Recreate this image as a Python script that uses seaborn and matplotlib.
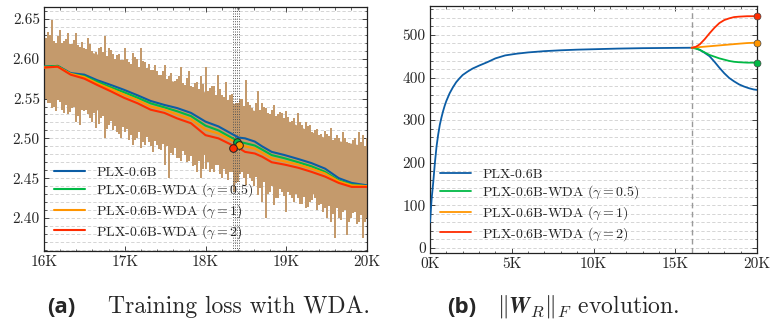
import numpy as np
import pandas as pd
import matplotlib
matplotlib.use("Agg")
import matplotlib.pyplot as plt
from matplotlib.ticker import FuncFormatter, MultipleLocator
import seaborn as sns

# ---------------- data ----------------
names = ["PLX-0.6B", r"PLX-0.6B-WDA ($\gamma = 0.5$)",
         r"PLX-0.6B-WDA ($\gamma = 1$)", r"PLX-0.6B-WDA ($\gamma = 2$)"]
colors = ["#0C5DA5", "#00B945", "#FF9500", "#FF2C00"]

# (a) raw loss: dense core of the noisy band, steps in K
core_steps = [16.0, 16.25, 16.5, 16.75, 17.0, 17.25, 17.5, 17.75, 18.0, 18.25,
              18.5, 18.75, 19.0, 19.25, 19.5, 19.75, 20.0]
core_hi = [2.620, 2.616, 2.611, 2.603, 2.594, 2.585, 2.575, 2.567, 2.558, 2.548,
           2.538, 2.531, 2.523, 2.511, 2.500, 2.495, 2.490]
core_lo = [2.559, 2.551, 2.542, 2.532, 2.521, 2.511, 2.500, 2.489, 2.479, 2.473,
           2.467, 2.454, 2.441, 2.433, 2.425, 2.420, 2.416]

# (a) raw loss spikes (upper / lower extremes), first set
raw_steps = [16.00, 16.05, 16.10, 16.15, 16.20, 16.25, 16.30, 16.35, 16.40, 16.45,
             16.50, 16.55, 16.60, 16.65, 16.70, 16.75, 16.80, 16.85, 16.90, 16.95,
             17.00, 17.05, 17.10, 17.15, 17.20, 17.25, 17.30, 17.35, 17.40, 17.45,
             17.50, 17.55, 17.60, 17.65, 17.70, 17.75, 17.80, 17.85, 17.90, 17.95,
             18.00, 18.05, 18.10, 18.15, 18.20, 18.25, 18.30, 18.35, 18.40, 18.45,
             18.50, 18.55, 18.60, 18.65, 18.70, 18.75, 18.80, 18.85, 18.90, 18.95,
             19.00, 19.05, 19.10, 19.15, 19.20, 19.25, 19.30, 19.35, 19.40, 19.45,
             19.50, 19.55, 19.60, 19.65, 19.70, 19.75, 19.80, 19.85, 19.90, 19.95,
             20.00]
raw_hi = [2.630, 2.634, 2.649, 2.620, 2.636, 2.622, 2.632, 2.618, 2.632, 2.615,
          2.614, 2.626, 2.610, 2.609, 2.615, 2.628, 2.613, 2.606, 2.605, 2.598,
          2.613, 2.596, 2.607, 2.600, 2.613, 2.596, 2.594, 2.586, 2.584, 2.580,
          2.592, 2.578, 2.570, 2.574, 2.590, 2.567, 2.584, 2.565, 2.571, 2.578,
          2.590, 2.563, 2.566, 2.580, 2.555, 2.571, 2.555, 2.538, 2.544, 2.550,
          2.573, 2.542, 2.534, 2.559, 2.545, 2.538, 2.530, 2.542, 2.530, 2.532,
          2.534, 2.521, 2.525, 2.532, 2.517, 2.520, 2.517, 2.510, 2.504, 2.500,
          2.506, 2.513, 2.500, 2.500, 2.508, 2.496, 2.492, 2.500, 2.508, 2.504,
          2.500]
raw_lo = [2.559, 2.545, 2.538, 2.534, 2.546, 2.532, 2.530, 2.538, 2.520, 2.517,
          2.534, 2.530, 2.520, 2.513, 2.525, 2.500, 2.517, 2.510, 2.508, 2.500,
          2.508, 2.498, 2.492, 2.500, 2.488, 2.492, 2.496, 2.483, 2.492, 2.485,
          2.467, 2.450, 2.479, 2.475, 2.471, 2.479, 2.471, 2.465, 2.458, 2.450,
          2.462, 2.458, 2.458, 2.467, 2.450, 2.455, 2.458, 2.433, 2.445, 2.458,
          2.441, 2.450, 2.440, 2.429, 2.420, 2.400, 2.433, 2.416, 2.425, 2.433,
          2.408, 2.429, 2.420, 2.425, 2.418, 2.412, 2.420, 2.425, 2.416, 2.408,
          2.400, 2.395, 2.375, 2.400, 2.408, 2.379, 2.400, 2.408, 2.395, 2.375,
          2.400]

# (a) raw loss spikes, second set (between the first ones)
raw2_steps = [16.025, 16.075, 16.125, 16.175, 16.225, 16.275, 16.325, 16.375, 16.425, 16.475,
              16.525, 16.575, 16.625, 16.675, 16.725, 16.775, 16.825, 16.875, 16.925, 16.975,
              17.025, 17.075, 17.125, 17.175, 17.225, 17.275, 17.325, 17.375, 17.425, 17.475,
              17.525, 17.575, 17.625, 17.675, 17.725, 17.775, 17.825, 17.875, 17.925, 17.975,
              18.025, 18.075, 18.125, 18.175, 18.225, 18.275, 18.325, 18.375, 18.425, 18.475,
              18.525, 18.575, 18.625, 18.675, 18.725, 18.775, 18.825, 18.875, 18.925, 18.975,
              19.025, 19.075, 19.125, 19.175, 19.225, 19.275, 19.325, 19.375, 19.425, 19.475,
              19.525, 19.575, 19.625, 19.675, 19.725, 19.775, 19.825, 19.875, 19.925, 19.975]
raw2_hi = [2.626, 2.630, 2.622, 2.628, 2.620, 2.625, 2.619, 2.624, 2.617, 2.621,
           2.612, 2.618, 2.606, 2.614, 2.609, 2.604, 2.611, 2.600, 2.606, 2.598,
           2.600, 2.594, 2.602, 2.590, 2.597, 2.588, 2.586, 2.592, 2.580, 2.584,
           2.575, 2.582, 2.572, 2.578, 2.569, 2.576, 2.566, 2.570, 2.562, 2.568,
           2.560, 2.566, 2.555, 2.562, 2.552, 2.548, 2.556, 2.545, 2.550, 2.541,
           2.546, 2.538, 2.544, 2.535, 2.540, 2.532, 2.536, 2.528, 2.533, 2.526,
           2.527, 2.522, 2.515, 2.521, 2.512, 2.516, 2.508, 2.512, 2.505, 2.509,
           2.503, 2.498, 2.504, 2.496, 2.501, 2.494, 2.498, 2.492, 2.496, 2.490]
raw2_lo = [2.550, 2.545, 2.540, 2.548, 2.536, 2.542, 2.533, 2.539, 2.528, 2.536,
           2.535, 2.526, 2.532, 2.518, 2.528, 2.512, 2.522, 2.515, 2.505, 2.514,
           2.512, 2.504, 2.498, 2.508, 2.495, 2.502, 2.490, 2.497, 2.487, 2.493,
           2.490, 2.482, 2.488, 2.475, 2.484, 2.470, 2.478, 2.466, 2.472, 2.462,
           2.470, 2.462, 2.466, 2.455, 2.462, 2.448, 2.458, 2.444, 2.455, 2.450,
           2.455, 2.446, 2.452, 2.438, 2.445, 2.430, 2.440, 2.425, 2.436, 2.428,
           2.432, 2.425, 2.430, 2.418, 2.426, 2.414, 2.422, 2.410, 2.418, 2.412,
           2.415, 2.405, 2.412, 2.398, 2.410, 2.395, 2.406, 2.392, 2.404, 2.395]

# (a) smoothed loss curves
loss_steps = [16.00, 16.17, 16.33, 16.50, 16.66, 16.83, 16.99, 17.16, 17.32, 17.49,
              17.65, 17.82, 18.00, 18.16, 18.32, 18.41, 18.49, 18.61, 18.70, 18.82,
              18.98, 19.15, 19.31, 19.48, 19.65, 19.81, 20.00]
loss_base = [2.590, 2.591, 2.582, 2.580, 2.573, 2.567, 2.561, 2.554, 2.547, 2.542,
             2.538, 2.532, 2.521, 2.515, 2.506, 2.501, 2.500, 2.496, 2.490, 2.483,
             2.479, 2.474, 2.469, 2.462, 2.450, 2.444, 2.441]
loss_g05 = [2.590, 2.591, 2.581, 2.578, 2.571, 2.564, 2.558, 2.551, 2.544, 2.539,
            2.534, 2.528, 2.516, 2.510, 2.501, 2.496, 2.494, 2.491, 2.486, 2.479,
            2.475, 2.470, 2.465, 2.458, 2.447, 2.442, 2.440]
loss_g1 = [2.589, 2.590, 2.581, 2.577, 2.569, 2.562, 2.555, 2.548, 2.540, 2.536,
           2.530, 2.524, 2.511, 2.506, 2.498, 2.493, 2.490, 2.487, 2.482, 2.475,
           2.471, 2.467, 2.462, 2.456, 2.446, 2.441, 2.440]
loss_g2 = [2.589, 2.590, 2.580, 2.575, 2.567, 2.559, 2.551, 2.544, 2.536, 2.532,
           2.525, 2.519, 2.504, 2.500, 2.492, 2.488, 2.483, 2.481, 2.477, 2.470,
           2.467, 2.463, 2.458, 2.452, 2.444, 2.439, 2.439]

# (a) marked points (step in K, loss) for gamma=0.5, 1, 2 and the dotted marker steps
mark_steps = [18.386, 18.418, 18.337]
mark_loss = [2.4955, 2.4917, 2.4876]
vline_steps = [18.337, 18.362, 18.386, 18.418]

# (b) norm of W_R
norm_steps = [0.0, 0.1, 0.2, 0.3, 0.4, 0.5, 0.6, 0.7, 0.8, 0.9, 1.0, 1.2, 1.4, 1.6,
              1.8, 2.0, 2.3, 2.6, 3.0, 3.5, 4.0, 4.6, 5.3, 6.0, 7.0, 8.0, 9.0, 10.0,
              11.5, 13.0, 14.5, 16.0, 16.25, 16.5, 16.8, 17.1, 17.4, 17.7, 18.0,
              18.3, 18.6, 18.9, 19.2, 19.5, 19.8, 20.0]
norm_base = [60, 115, 155, 200, 238, 266, 289, 306, 321, 334, 345, 363, 377, 389,
             398, 406, 414, 421, 428, 436, 445, 452, 456, 459, 462, 464, 465.5, 466.5,
             468, 469, 469.5, 470, 469, 465, 458, 450, 437, 423, 410,
             399, 391, 384, 379, 375, 372, 371]
wda_steps = [16.0, 16.25, 16.5, 16.8, 17.1, 17.4, 17.7, 18.0, 18.3, 18.6, 18.9,
             19.4, 20.0]
norm_g05 = [470, 468, 465, 459, 453, 449, 445, 442, 439, 437, 436, 435, 435]
norm_g1 = [470, 471, 471.5, 472.5, 473.5, 474.5, 475.5, 476.5, 477.5, 478.5, 479.5,
           481, 482]
norm_g2 = [470, 472, 478, 490, 504, 517, 528, 535, 539, 542, 543, 544, 544]
wda_start = 16.0

# ---------------- style ----------------
sns.set_theme(style="ticks")
plt.rcParams.update({
    "font.family": ["cmr10", "DejaVu Serif"],
    "mathtext.fontset": "cm",
    "axes.formatter.use_mathtext": True,
    "axes.unicode_minus": False,
    "axes.linewidth": 0.9,
    "axes.edgecolor": "#222222",
    "xtick.direction": "in", "ytick.direction": "in",
    "xtick.top": True, "ytick.right": True,
    "xtick.major.size": 3.5, "ytick.major.size": 3.5,
    "xtick.minor.size": 1.8, "ytick.minor.size": 1.8,
    "xtick.major.width": 0.6, "ytick.major.width": 0.6,
    "xtick.minor.width": 0.5, "ytick.minor.width": 0.5,
    "xtick.minor.visible": True, "ytick.minor.visible": True,
    "xtick.labelsize": 11, "ytick.labelsize": 11,
    "xtick.major.pad": 3, "ytick.major.pad": 3,
})

fig = plt.figure(figsize=(7.71, 3.26), dpi=100)
axa = fig.add_axes([44 / 771, 75 / 326, 323 / 771, 244 / 326])
axb = fig.add_axes([430 / 771, 73 / 326, 327 / 771, 247 / 326])

kfmt = FuncFormatter(lambda v, p: f"{v:.0f}K")
grid_kw = dict(axis="y", which="both", ls=(0, (4, 2.5)), lw=0.6, color="#cfcfcf")
tan = "#C49A6C"

# ---- (a) ----
axa.grid(**grid_kw)
axa.set_axisbelow(True)
axa.vlines(raw_steps, raw_lo, raw_hi, color=tan, lw=1.3, zorder=1, antialiased=False)
axa.vlines(raw2_steps, raw2_lo, raw2_hi, color=tan, lw=1.3, zorder=1, antialiased=False)
axa.fill_between(core_steps, core_lo, core_hi, color=tan, lw=0, zorder=1.2)

df_loss = pd.DataFrame({"step": loss_steps})
for lab, col, vals in zip(names, colors, [loss_base, loss_g05, loss_g1, loss_g2]):
    sns.lineplot(x=df_loss["step"], y=vals, ax=axa, color=col, lw=1.5, label=lab,
                 legend=False, zorder=3)
for xs in vline_steps:
    axa.axvline(xs, color="#555555", ls=":", lw=0.7, zorder=2)
for xs, ys, col in zip(mark_steps, mark_loss, colors[1:]):
    axa.plot([xs], [ys], "o", ms=5.5, mfc=col, mec="#222222", mew=0.7, zorder=5)

axa.set_xlim(16, 20)
axa.set_ylim(2.3585, 2.665)
axa.xaxis.set_major_locator(MultipleLocator(1))
axa.xaxis.set_minor_locator(MultipleLocator(0.2))
axa.yaxis.set_major_locator(MultipleLocator(0.05))
axa.yaxis.set_minor_locator(MultipleLocator(0.01))
axa.xaxis.set_major_formatter(kfmt)
axa.yaxis.set_major_formatter(FuncFormatter(lambda v, p: f"{v:.2f}"))
axa.set_xlabel(""); axa.set_ylabel("")
axa.legend(loc="lower left", frameon=False, fontsize=10, handlelength=2.2,
           labelspacing=0.2, borderaxespad=0.35, bbox_to_anchor=(0.0, 0.0))

# ---- (b) ----
axb.grid(**grid_kw)
axb.set_axisbelow(True)
axb.axvline(wda_start, color="#9a9a9a", ls=(0, (4, 2.5)), lw=1.0, zorder=1)
sns.lineplot(x=norm_steps, y=norm_base, ax=axb, color=colors[0], lw=1.3,
             label=names[0], legend=False, zorder=3)
for lab, col, vals in zip(names[1:], colors[1:], [norm_g05, norm_g1, norm_g2]):
    sns.lineplot(x=wda_steps, y=vals, ax=axb, color=col, lw=1.3, label=lab,
                 legend=False, zorder=3)
    axb.plot([wda_steps[-1]], [vals[-1]], "o", ms=5, mfc=col, mec="#444444",
             mew=0.5, zorder=6, clip_on=False)

axb.set_xlim(0, 20)
axb.set_ylim(-12, 568)
axb.xaxis.set_major_locator(MultipleLocator(5))
axb.xaxis.set_minor_locator(MultipleLocator(1))
axb.yaxis.set_major_locator(MultipleLocator(100))
axb.yaxis.set_minor_locator(MultipleLocator(20))
axb.xaxis.set_major_formatter(kfmt)
axb.yaxis.set_major_formatter(FuncFormatter(lambda v, p: f"{v:.0f}"))
axb.set_xlabel(""); axb.set_ylabel("")
axb.legend(loc="lower left", frameon=False, fontsize=10, handlelength=2.2,
           labelspacing=0.2, borderaxespad=0.35, bbox_to_anchor=(0.0, 0.0))

# ---- captions ----
yb = 13 / 326
fig.text(47 / 771, yb, "(a)", family="Open Sans", weight="bold", fontsize=16,
         va="baseline", ha="left")
fig.text(108 / 771, yb, "Training loss with WDA.", fontsize=17, va="baseline", ha="left")
fig.text(447 / 771, yb, "(b)", family="Open Sans", weight="bold", fontsize=16,
         va="baseline", ha="left")
fig.text(497 / 771, yb, r"$\Vert\mathbfit{W}_R\Vert_F$ evolution.", fontsize=17,
         va="baseline", ha="left")

fig.savefig("out.png", dpi=100)
